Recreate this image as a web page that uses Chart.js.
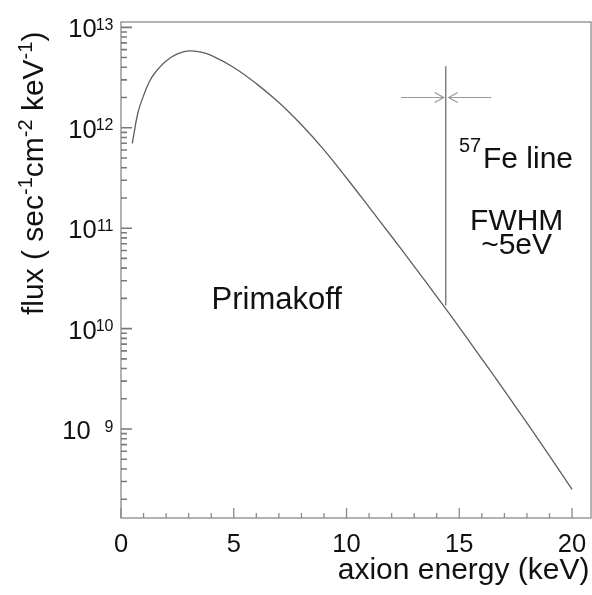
<!DOCTYPE html>
<html>
<head>
<meta charset="utf-8">
<script src="https://cdn.jsdelivr.net/npm/chart.js@4.4.1/dist/chart.umd.min.js"></script>
<style>
  html, body { margin: 0; padding: 0; background: #fff; }
  #wrap { width: 592px; height: 595px; }
</style>
</head>
<body>
<div id="wrap"><canvas id="c" width="592" height="595"></canvas></div>
<script>
// Primakoff spectrum
const energy = [0.5, 0.75, 1, 1.25, 1.5, 2, 2.5, 3, 3.5, 4, 5, 6, 7, 8, 9, 10, 11, 12, 13, 14, 15, 16, 17, 18, 19, 20];
const flux = [7.0e11, 1.41e12, 2.09e12, 2.85e12, 3.51e12, 4.62e12, 5.43e12, 5.83e12, 5.69e12, 5.25e12, 3.98e12, 2.75e12, 1.78e12,
              1.07e12, 6.03e11, 3.16e11, 1.62e11, 8.26e10, 4.17e10, 2.08e10, 1.03e10, 5.0e9, 2.41e9, 1.15e9, 5.41e8, 2.51e8];

// 57Fe line marker
const feEnergy = 14.4;
const feRange = [1.7e10, 4.1e12];
const arrowLevel = 2.0e12;
const arrowLeft = [12.42, 14.31];
const arrowRight = [16.41, 14.53];

// axes
const xRange = [0, 20.84];
const yRange = [1.3e8, 1.13e13];
const xTickLabels = [0, 5, 10, 15, 20];
const yDecades = [9, 10, 11, 12, 13];
const yMinorMantissa = [2, 3, 4, 5, 6, 7, 8, 9];

const FONT = '"Liberation Sans", Arial, Helvetica, sans-serif';
const TEXT = '#111';

function font(size) { return size + 'px ' + FONT; }

const axisPlugin = {
    id: 'rootAxes',
    afterDraw(chart) {
        const ctx = chart.ctx;
        const area = chart.chartArea;
        const xs = chart.scales.x;
        const ys = chart.scales.y;
        ctx.save();

        // frame
        ctx.strokeStyle = '#8a8a8a';
        ctx.lineWidth = 1.3;
        ctx.strokeRect(area.left, area.top, area.right - area.left, area.bottom - area.top);

        // x ticks (inside)
        ctx.beginPath();
        for (let v = 0; v <= xRange[1]; v++) {
            const px = xs.getPixelForValue(v);
            const len = v % 5 === 0 ? 10 : 5;
            ctx.moveTo(px, area.bottom);
            ctx.lineTo(px, area.bottom - len);
        }
        ctx.stroke();

        // y ticks (inside), decades and 2..9
        const yTicks = [];
        [8].concat(yDecades).forEach(d => {
            yTicks.push({ v: Math.pow(10, d), len: 11 });
            yMinorMantissa.forEach(m => yTicks.push({ v: m * Math.pow(10, d), len: 6 }));
        });
        ctx.beginPath();
        yTicks.forEach(t => {
            if (t.v < yRange[0] || t.v > yRange[1]) return;
            const py = ys.getPixelForValue(t.v);
            ctx.moveTo(area.left, py);
            ctx.lineTo(area.left + t.len, py);
        });
        ctx.strokeStyle = '#7a7a7a';
        ctx.lineWidth = 1.6;
        ctx.stroke();

        // x tick labels
        ctx.fillStyle = TEXT;
        ctx.font = font(25.5);
        ctx.textAlign = 'center';
        ctx.textBaseline = 'alphabetic';
        xTickLabels.forEach(v => {
            ctx.fillText(String(v), xs.getPixelForValue(v), 551.5);
        });

        // y tick labels: 10 with superscript exponent
        yDecades.forEach(d => {
            const py = ys.getPixelForValue(Math.pow(10, d));
            ctx.font = font(25.5);
            ctx.textAlign = 'right';
            const baseRight = d < 10 ? 90.7 : 96.7;
            ctx.fillText('10', baseRight, py + 10);
            ctx.font = font(16);
            ctx.fillText(String(d), 113.5, py + 2.5);
        });

        // x title
        ctx.font = font(30);
        ctx.textAlign = 'right';
        ctx.fillText('axion energy (keV)', 589.5, 578.5);

        // y title, rotated, with superscripts
        ctx.save();
        ctx.translate(43, 315);
        ctx.rotate(-Math.PI / 2);
        ctx.textAlign = 'left';
        const parts = [
            ['flux ( sec', 30, 0], ['-1', 20, -11], ['cm', 30, 0], ['-2', 20, -11],
            [' keV', 30, 0], ['-1', 20, -11], [')', 30, 0]
        ];
        let cx = 0;
        parts.forEach(p => {
            ctx.font = font(p[1]);
            ctx.fillText(p[0], cx, p[2]);
            cx += ctx.measureText(p[0]).width;
        });
        ctx.restore();

        // arrow heads on the FWHM marker
        ctx.strokeStyle = '#9a9a9a';
        ctx.lineWidth = 1.2;
        const ay = ys.getPixelForValue(arrowLevel);
        const tipL = xs.getPixelForValue(arrowLeft[1]);
        const tipR = xs.getPixelForValue(arrowRight[1]);
        ctx.beginPath();
        ctx.moveTo(tipL - 9, ay - 5); ctx.lineTo(tipL, ay); ctx.lineTo(tipL - 9, ay + 5);
        ctx.moveTo(tipR + 9, ay - 5); ctx.lineTo(tipR, ay); ctx.lineTo(tipR + 9, ay + 5);
        ctx.stroke();

        // annotations
        ctx.fillStyle = TEXT;
        ctx.textAlign = 'left';
        ctx.font = font(20);
        ctx.fillText('57', 459, 151.5);
        ctx.font = font(30);
        ctx.fillText('Fe line', 483, 168.3);
        ctx.textAlign = 'center';
        ctx.fillText('FWHM', 516.7, 230);
        ctx.fillText('~5eV', 516.6, 254);
        ctx.textAlign = 'left';
        ctx.font = font(31);
        ctx.fillText('Primakoff', 211.5, 309.3);

        ctx.restore();
    }
};

new Chart(document.getElementById('c'), {
    type: 'scatter',
    data: {
        datasets: [
            {
                label: 'Primakoff',
                data: energy.map((e, i) => ({ x: e, y: flux[i] })),
                showLine: true,
                borderColor: '#5e5e5e',
                borderWidth: 1.3,
                pointRadius: 0,
                tension: 0.4
            },
            {
                label: 'Fe line',
                data: feRange.map(v => ({ x: feEnergy, y: v })),
                showLine: true,
                borderColor: '#707070',
                borderWidth: 1.3,
                pointRadius: 0
            },
            {
                label: 'arrow left',
                data: arrowLeft.map(v => ({ x: v, y: arrowLevel })),
                showLine: true,
                borderColor: '#9a9a9a',
                borderWidth: 1.2,
                pointRadius: 0
            },
            {
                label: 'arrow right',
                data: arrowRight.map(v => ({ x: v, y: arrowLevel })),
                showLine: true,
                borderColor: '#9a9a9a',
                borderWidth: 1.2,
                pointRadius: 0
            }
        ]
    },
    options: {
        responsive: false,
        animation: false,
        layout: { padding: { left: 0, right: 1, top: 22, bottom: 0 } },
        plugins: {
            legend: { display: false },
            tooltip: { enabled: false }
        },
        scales: {
            x: {
                type: 'linear',
                min: xRange[0],
                max: xRange[1],
                grid: { display: false },
                border: { display: false },
                ticks: { display: false },
                afterFit(scale) { scale.height = 77; }
            },
            y: {
                type: 'logarithmic',
                min: yRange[0],
                max: yRange[1],
                grid: { display: false },
                border: { display: false },
                ticks: { display: false },
                afterFit(scale) { scale.width = 121; }
            }
        }
    },
    plugins: [axisPlugin]
});
</script>
</body>
</html>
